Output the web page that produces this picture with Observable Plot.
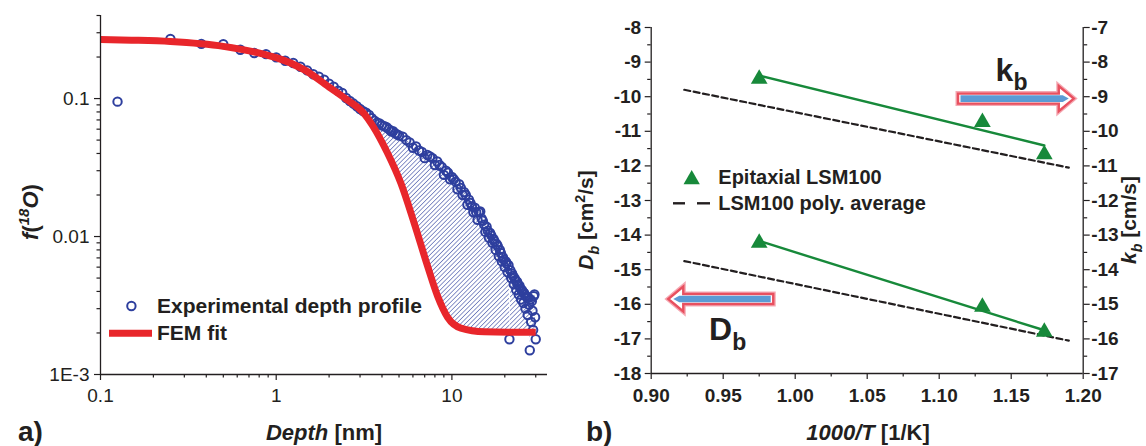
<!DOCTYPE html>
<html>
<head>
<meta charset="utf-8">
<script src="https://cdn.jsdelivr.net/npm/d3@7"></script>
<script src="https://cdn.jsdelivr.net/npm/@observablehq/plot@0.6"></script>
<style>
  body { margin: 0; background: #fff; }
  #wrap { position: relative; width: 1146px; height: 446px; overflow: hidden; }
  #panelA { position: absolute; left: 0; top: 0; }
  #panelB { position: absolute; left: 560px; top: 0; }
</style>
</head>
<body>
<div id="wrap"><div id="panelA"></div><div id="panelB"></div></div>
<script>
const FONT = "'Liberation Sans', Arial, Helvetica, sans-serif";
const INK = "#231f20";
const BLUE = "#2e3f9e";
const RED = "#e8262b";
const GREEN = "#17893a";
const PINK = "#e8505f";
const PINK_HALO = "#f5a9b3";
const ARROW_BLUE = "#5b9bd5";

// ---- (a) 18O isotope fraction depth profile ----
const expDepth = [
  0.125, 0.25, 0.375, 0.5, 0.625, 0.75, 0.875, 1, 1.125, 1.25,
  1.375, 1.5, 1.625, 1.75, 1.875, 2, 2.125, 2.25, 2.375, 2.5,
  2.625, 2.75, 2.875, 3, 3.125, 3.25, 3.375, 3.5, 3.625, 3.75,
  3.875, 4, 4.125, 4.25, 4.375, 4.5, 4.625, 4.75, 4.875, 5,
  5.25, 5.5, 5.75, 6, 6.25, 6.5, 6.75, 7, 7.25, 7.5,
  7.75, 8, 8.25, 8.5, 8.75, 9, 9.25, 9.5, 9.75, 10,
  10.25, 10.5, 10.75, 11, 11.25, 11.5, 11.75, 12, 12.25, 12.5,
  12.75, 13, 13.25, 13.5, 13.75, 14, 14.25, 14.5, 14.75, 15,
  15.25, 15.5, 15.75, 16, 16.25, 16.5, 16.75, 17, 17.25, 17.5,
  17.75, 18, 18.25, 18.5, 18.75, 19, 19.25, 19.5, 19.75, 20,
  20.25, 20.5, 20.75, 21, 21.25, 21.5, 21.75, 22, 22.25, 22.5,
  22.75, 23, 23.25, 23.5, 23.75, 24, 24.25, 24.5, 24.75, 25,
  25.25, 25.5, 25.75, 26, 26.25, 26.5, 26.75, 27, 27.25, 27.5,
  27.75, 28, 28.25, 28.5, 28.75, 29, 29.25, 29.5, 29.75, 30
];
const expFraction = [
  0.095, 0.270, 0.249, 0.248, 0.226, 0.214, 0.210, 0.199, 0.188, 0.181,
  0.170, 0.160, 0.150, 0.144, 0.137, 0.128, 0.122, 0.114, 0.110, 0.101,
  0.096, 0.092, 0.088, 0.084, 0.081, 0.079, 0.076, 0.072, 0.069, 0.067,
  0.066, 0.064, 0.063, 0.062, 0.060, 0.058, 0.058, 0.056, 0.055, 0.054,
  0.053, 0.050, 0.048, 0.044, 0.045, 0.042, 0.041, 0.037, 0.039, 0.038,
  0.037, 0.033, 0.035, 0.033, 0.032, 0.028, 0.030, 0.029, 0.026, 0.027,
  0.026, 0.025, 0.022, 0.024, 0.0225, 0.020, 0.021, 0.020, 0.017, 0.0185,
  0.0175, 0.0165, 0.0150, 0.0162, 0.0150, 0.0132, 0.0150, 0.0152, 0.0135, 0.0130,
  0.0122, 0.0108, 0.0118, 0.0110, 0.0098, 0.0106, 0.0102, 0.0090, 0.0096, 0.0092,
  0.0080, 0.0088, 0.0085, 0.0072, 0.0080, 0.0076, 0.0066, 0.0071, 0.0068, 0.0060,
  0.0066, 0.0064, 0.0055, 0.0062, 0.0018, 0.0057, 0.0050, 0.0054, 0.0052, 0.0045,
  0.0050, 0.0048, 0.0041, 0.0047, 0.0045, 0.0038, 0.0044, 0.0042, 0.0035, 0.0041,
  0.0040, 0.0033, 0.0039, 0.0038, 0.0030, 0.0037, 0.0036, 0.0027, 0.0036, 0.0032,
  0.0015, 0.0035, 0.0024, 0.0034, 0.0029, 0.0021, 0.0037, 0.0038, 0.0026, 0.0018
];
const fitDepth = [0.1, 0.15, 0.25, 0.5, 0.87, 1.0, 1.44, 2.04, 2.5, 3.16, 3.53, 4.3, 5.12, 6.1, 7.27, 8.29, 9.45, 11.25, 15.3, 30];
const fitFraction = [0.268, 0.265, 0.259, 0.239, 0.208, 0.198, 0.162, 0.119, 0.099, 0.078, 0.064, 0.0403, 0.0244, 0.0125, 0.0061, 0.0037, 0.0026, 0.00217, 0.00204, 0.00202];
const hatchFrom = 3.5; // depth where the profile leaves the FEM fit

const depthTicks = [0.1, 1, 10];
const depthTickLabels = ["0.1", "1", "10"];
const depthMinorTicks = [0.2, 0.3, 0.4, 0.5, 0.6, 0.7, 0.8, 0.9, 2, 3, 4, 5, 6, 7, 8, 9, 20, 30];
const fracTicks = [0.001, 0.01, 0.1];
const fracTickLabels = ["1E-3", "0.01", "0.1"];
const fracMinorTicks = [0.002, 0.003, 0.004, 0.005, 0.006, 0.007, 0.008, 0.009,
  0.02, 0.03, 0.04, 0.05, 0.06, 0.07, 0.08, 0.09, 0.2, 0.3, 0.4];

// ---- (b) Arrhenius plot of D_b and k_b ----
const invT = [0.975, 1.130, 1.173];
const logDbEpi = [-14.16, -16.01, -16.73];
const logKbEpi = [-8.42, -9.67, -10.60];
const fitInvT = [0.975, 1.173];
const logDbFit = [-14.17, -16.75];
const logKbFit = [-8.39, -10.41];
const polyInvT = [0.923, 1.190];
const logDbPoly = [-14.75, -17.05];
const logKbPoly = [-8.80, -11.05];
const kbAxisOffset = 1; // right axis (log k_b) reads one unit above the left axis (log D_b)

const invTTicks = [0.90, 0.95, 1.00, 1.05, 1.10, 1.15, 1.20];
const invTMinorTicks = [0.925, 0.975, 1.025, 1.075, 1.125, 1.175];
const logDbTicks = [-18, -17, -16, -15, -14, -13, -12, -11, -10, -9, -8];
const logDbMinorTicks = [-17.5, -16.5, -15.5, -14.5, -13.5, -12.5, -11.5, -10.5, -9.5, -8.5];

// arrows pointing each series to its axis; "at" is in that axis' units
const dbArrow = {from: 0.9851, to: 0.9122, at: -15.86};
const kbArrow = {from: 1.1134, to: 1.1938, at: -9.07};
const dbLabel = {x: 0.9405, y: -17.05};
const kbLabel = {x: 1.1395, y: -8.55};

// ---------- helpers ----------
function rich(g, x, y, parts, {size, weight = "bold", anchor = "start", rotate = 0, subScale = 0.68}) {
  const t = g.append("text")
    .attr("transform", `translate(${x},${y})` + (rotate ? ` rotate(${rotate})` : ""))
    .attr("text-anchor", anchor)
    .attr("font-family", FONT)
    .attr("font-size", size)
    .attr("font-weight", weight)
    .attr("fill", INK);
  let shift = 0;
  for (const p of parts) {
    const target = p.sub ? 0.3 * size : p.sup ? -0.4 * size : 0;
    const s = t.append("tspan").text(p.t).attr("dy", target - shift);
    shift = target;
    if (p.italic) s.attr("font-style", "italic");
    if (p.sub || p.sup) s.attr("font-size", size * subScale);
  }
  return t;
}

const labelMap = (ticks, labels) => new Map(ticks.map((t, i) => [t, labels[i]]));

// ---------- panel (a) ----------
const profile = expDepth.map((d, i) => ({d, v: expFraction[i]}));
const fit = fitDepth.map((d, i) => ({d, v: fitFraction[i]}));
const hatchOutline = [
  ...profile.filter(p => p.d >= hatchFrom),
  ...fit.filter(p => p.d >= hatchFrom).reverse()
];
const depthLabel = labelMap(depthTicks, depthTickLabels);
const fracLabel = labelMap(fracTicks, fracTickLabels);

const hatchDefs = () => {
  const defs = d3.create("svg:defs");
  const pat = defs.append("pattern")
    .attr("id", "hatchA").attr("patternUnits", "userSpaceOnUse")
    .attr("width", 3.2).attr("height", 3.2)
    .attr("patternTransform", "rotate(45)");
  pat.append("line").attr("x1", 0).attr("y1", 0).attr("x2", 0).attr("y2", 3.2)
    .attr("stroke", BLUE).attr("stroke-width", 1.1);
  return defs.node();
};

const legendA = () => {
  const g = d3.create("svg:g");
  g.append("circle").attr("cx", 131.4).attr("cy", 306).attr("r", 4.2)
    .attr("fill", "none").attr("stroke", BLUE).attr("stroke-width", 2);
  rich(g, 157, 313, [{t: "Experimental depth profile"}], {size: 21});
  g.append("line").attr("x1", 109).attr("x2", 152).attr("y1", 333.3).attr("y2", 333.3)
    .attr("stroke", RED).attr("stroke-width", 7);
  rich(g, 157, 339.5, [{t: "FEM fit"}], {size: 21});
  // axis titles and panel tag
  rich(g, 38, 212, [{t: "f", italic: true}, {t: "("}, {t: "18", sup: true, italic: true}, {t: "O", italic: true}, {t: ")"}],
    {size: 22, anchor: "middle", rotate: -90});
  rich(g, 324, 440, [{t: "Depth", italic: true}, {t: " [nm]"}], {size: 22, anchor: "middle"});
  rich(g, 18, 441, [{t: "a)"}], {size: 28});
  return g.node();
};

const chartA = Plot.plot({
  width: 560, height: 446,
  marginLeft: 100, marginRight: 13, marginTop: 15, marginBottom: 72,
  style: {fontFamily: FONT, fontSize: "19px", color: INK, background: "transparent", overflow: "visible"},
  x: {type: "log", domain: [0.1, 35]},
  y: {type: "log", domain: [0.001, 0.4]},
  marks: [
    hatchDefs,
    Plot.line(hatchOutline, {x: "d", y: "v", fill: "url(#hatchA)", stroke: "none", curve: "linear"}),
    Plot.dot(profile, {x: "d", y: "v", r: 4.2, stroke: BLUE, strokeWidth: 2, fill: "none"}),
    Plot.line(fit, {x: "d", y: "v", stroke: RED, strokeWidth: 7, curve: "monotone-x", strokeLinecap: "butt"}),
    Plot.ruleY([0.001], {stroke: INK, strokeWidth: 1.3}),
    Plot.ruleX([0.1], {stroke: INK, strokeWidth: 1.3}),
    Plot.axisX({ticks: depthTicks, tickFormat: d => depthLabel.get(d), tickSize: 6, tickPadding: 8, label: null, strokeWidth: 1.2}),
    Plot.axisX({ticks: depthMinorTicks, tickFormat: () => "", tickSize: 3.5, label: null, strokeWidth: 1.2}),
    Plot.axisY({ticks: fracTicks, tickFormat: d => fracLabel.get(d), tickSize: 6, tickPadding: 5, label: null, strokeWidth: 1.2}),
    Plot.axisY({ticks: fracMinorTicks, tickFormat: () => "", tickSize: 3.5, label: null, strokeWidth: 1.2}),
    legendA
  ]
});
document.getElementById("panelA").append(chartA);

// ---------- panel (b) ----------
const epiDb = invT.map((x, i) => ({x, y: logDbEpi[i]}));
const epiKb = invT.map((x, i) => ({x, y: logKbEpi[i] - kbAxisOffset}));
const fitDb = fitInvT.map((x, i) => ({x, y: logDbFit[i]}));
const fitKb = fitInvT.map((x, i) => ({x, y: logKbFit[i] - kbAxisOffset}));
const polyDb = polyInvT.map((x, i) => ({x, y: logDbPoly[i]}));
const polyKb = polyInvT.map((x, i) => ({x, y: logKbPoly[i] - kbAxisOffset}));

function blockArrow(spec, offset) {
  return (index, scales) => {
    const g = d3.create("svg:g");
    const x1 = scales.x(spec.from), x2 = scales.x(spec.to), yy = scales.y(spec.at - offset);
    const dir = Math.sign(x2 - x1);
    const hs = 5, hh = 12.5, hl = 15;
    const xb = x2 - dir * hl;
    const outline = d3.line()([[x1, yy - hs], [xb, yy - hs], [xb, yy - hh], [x2, yy], [xb, yy + hh], [xb, yy + hs], [x1, yy + hs]]) + "Z";
    g.append("path").attr("d", outline).attr("fill", "white").attr("stroke", PINK_HALO).attr("stroke-width", 5);
    g.append("path").attr("d", outline).attr("fill", "white").attr("stroke", PINK).attr("stroke-width", 2.4);
    const inner = d3.line()([[x1 + dir * 2.5, yy - 3.3], [x2 - dir * 11, yy - 3.3], [x2 - dir * 5, yy], [x2 - dir * 11, yy + 3.3], [x1 + dir * 2.5, yy + 3.3]]) + "Z";
    g.append("path").attr("d", inner).attr("fill", ARROW_BLUE);
    return g.node();
  };
}

function seriesLabel(pos, offset, main) {
  return (index, scales) => {
    const g = d3.create("svg:g");
    rich(g, scales.x(pos.x), scales.y(pos.y - offset), [{t: main}, {t: "b", sub: true}], {size: 32, subScale: 0.72});
    return g.node();
  };
}

const legendB = () => {
  const g = d3.create("svg:g");
  const tri = d3.symbol(d3.symbolTriangle, 115)();
  g.append("path").attr("d", tri).attr("transform", "translate(131.7,179.5)").attr("fill", GREEN);
  rich(g, 158.3, 184, [{t: "Epitaxial LSM100"}], {size: 20});
  g.append("line").attr("x1", 113).attr("x2", 125).attr("y1", 203.3).attr("y2", 203.3).attr("stroke", INK).attr("stroke-width", 2.4);
  g.append("line").attr("x1", 137).attr("x2", 150).attr("y1", 203.3).attr("y2", 203.3).attr("stroke", INK).attr("stroke-width", 2.4);
  rich(g, 158.3, 210, [{t: "LSM100 poly. average"}], {size: 20});
  // axis titles and panel tag
  rich(g, 33, 220, [{t: "D", italic: true}, {t: "b", sub: true, italic: true}, {t: " [cm"}, {t: "2", sup: true}, {t: "/s]"}],
    {size: 21, anchor: "middle", rotate: -90});
  rich(g, 576, 220, [{t: "k", italic: true}, {t: "b", sub: true, italic: true}, {t: " [cm/s]"}],
    {size: 21, anchor: "middle", rotate: -90});
  rich(g, 308, 440, [{t: "1000/T", italic: true}, {t: " [1/K]"}], {size: 22, anchor: "middle"});
  rich(g, 26, 441, [{t: "b)"}], {size: 28});
  return g.node();
};

const chartB = Plot.plot({
  width: 586, height: 446,
  marginLeft: 90.7, marginRight: 63.3, marginTop: 27, marginBottom: 73,
  style: {fontFamily: FONT, fontSize: "19px", color: INK, background: "transparent", overflow: "visible"},
  x: {domain: [0.90, 1.20]},
  y: {domain: [-18, -8]},
  marks: [
    Plot.ruleX([0.90, 1.20], {stroke: INK, strokeWidth: 1.3}),
    Plot.ruleY([-18], {stroke: INK, strokeWidth: 1.3}),
    Plot.axisX({ticks: invTTicks, tickFormat: d => d.toFixed(2), tickSize: 6, tickPadding: 9, fontWeight: "bold", label: null, strokeWidth: 1.2}),
    Plot.axisX({ticks: invTMinorTicks, tickFormat: () => "", tickSize: 3.5, label: null, strokeWidth: 1.2}),
    Plot.axisY({ticks: logDbTicks, tickFormat: d => String(d), tickSize: 6, tickPadding: 4, fontWeight: "bold", label: null, strokeWidth: 1.2}),
    Plot.axisY({ticks: logDbMinorTicks, tickFormat: () => "", tickSize: 3.5, label: null, strokeWidth: 1.2}),
    Plot.axisY({anchor: "right", ticks: logDbTicks, tickFormat: d => String(d + kbAxisOffset), tickSize: 6, tickPadding: 2, fontWeight: "bold", label: null, strokeWidth: 1.2}),
    Plot.axisY({anchor: "right", ticks: logDbMinorTicks, tickFormat: () => "", tickSize: 3.5, label: null, strokeWidth: 1.2}),
    Plot.line(polyKb, {x: "x", y: "y", stroke: INK, strokeWidth: 2.2, strokeDasharray: "6,3.5"}),
    Plot.line(polyDb, {x: "x", y: "y", stroke: INK, strokeWidth: 2.2, strokeDasharray: "6,3.5"}),
    Plot.line(fitKb, {x: "x", y: "y", stroke: GREEN, strokeWidth: 2.4}),
    Plot.line(fitDb, {x: "x", y: "y", stroke: GREEN, strokeWidth: 2.4}),
    Plot.dot(epiKb, {x: "x", y: "y", symbol: "triangle", r: 6.2, fill: GREEN, dy: 2.3}),
    Plot.dot(epiDb, {x: "x", y: "y", symbol: "triangle", r: 6.2, fill: GREEN, dy: 2.3}),
    blockArrow(kbArrow, kbAxisOffset),
    blockArrow(dbArrow, 0),
    seriesLabel(kbLabel, kbAxisOffset, "k"),
    seriesLabel(dbLabel, 0, "D"),
    legendB
  ]
});
document.getElementById("panelB").append(chartB);
</script>
</body>
</html>
